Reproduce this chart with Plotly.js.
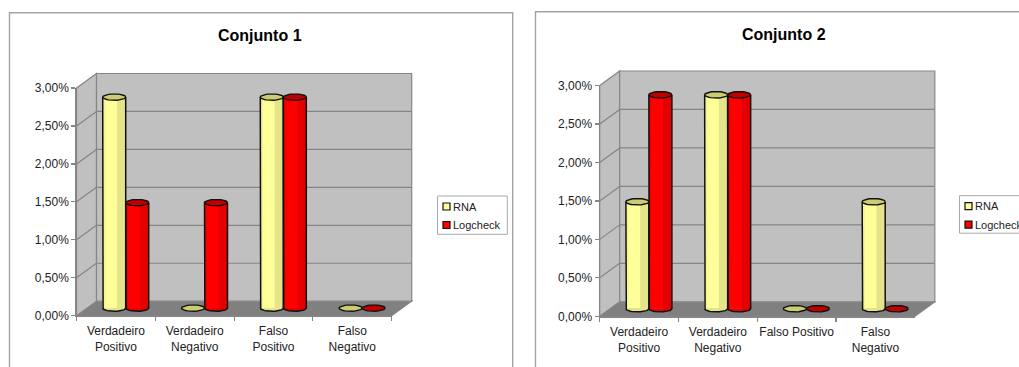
<!DOCTYPE html>
<html>
<head>
<meta charset="utf-8">
<script src="https://cdn.plot.ly/plotly-3.0.1.min.js"></script>
<style>html,body{margin:0;padding:0;background:#fff;overflow:hidden}#chart{width:1019px;height:367px}</style>
</head>
<body>
<div id="chart"></div>
<script>
// Classification rates per outcome, in percent
const categories1 = ['Verdadeiro<br>Positivo', 'Verdadeiro<br>Negativo', 'Falso<br>Positivo', 'Falso<br>Negativo'];
const categories2 = ['Verdadeiro<br>Positivo', 'Verdadeiro<br>Negativo', 'Falso Positivo', 'Falso<br>Negativo'];
const rna1 = [2.78, 0, 2.78, 0];
const logcheck1 = [1.39, 1.39, 2.78, 0];
const rna2 = [1.39, 2.78, 0, 1.39];
const logcheck2 = [2.78, 2.78, 0, 0];
const seriesNames = ['RNA', 'Logcheck'];
const yTicks = [0, 0.5, 1, 1.5, 2, 2.5, 3];
const yTickText = ['0,00%', '0,50%', '1,00%', '1,50%', '2,00%', '2,50%', '3,00%'];

const W = 1019, H = 367;
const X = p => p / W, Y = p => 1 - p / H;
const FONT = '"Liberation Sans", Arial, sans-serif';
const GREY = '#858585', WALL = '#c0c0c0', FLOOR = '#808080', INK = '#111';

const palette = [
  {body: '#ffff99', cap: '#cccc70', bands: [[0, 0.12, '#f4f490'], [0.62, 1, '#e4e48a']]},
  {body: '#ff0000', cap: '#bf0000', bands: [[0, 0.1, '#ee0000'], [0.62, 1, '#e40000']]}
];

const traces = [], shapes = [], annotations = [];
const layout = {
  width: W, height: H, margin: {l: 0, r: 0, t: 0, b: 0},
  paper_bgcolor: '#fff', plot_bgcolor: 'rgba(0,0,0,0)',
  showlegend: false, barmode: 'overlay',
  font: {family: FONT, size: 12, color: INK},
  shapes, annotations
};

function line(x0, y0, x1, y1, color, width) {
  shapes.push({type: 'line', xref: 'paper', yref: 'paper', layer: 'below',
    x0: X(x0), y0: Y(y0), x1: X(x1), y1: Y(y1), line: {color, width}});
}
function poly(pts, fill) {
  const d = pts.map((p, i) => (i ? 'L' : 'M') + X(p[0]) + ',' + Y(p[1])).join(' ') + ' Z';
  shapes.push({type: 'path', xref: 'paper', yref: 'paper', layer: 'below', path: d,
    fillcolor: fill, line: {color: GREY, width: 1.2}});
}

function panel(cfg, index) {
  const {left, right, top, bottom, frame, categories, values, title, legend} = cfg;
  const suffix = n => (n === 1 ? '' : String(n));
  const frontN = index * 2 + 1, barN = index * 2 + 2;
  const dx = 20, dy = -14.5;          // depth of the box
  const midX = 9.8, midY = -7.6;      // cylinders stand half way back
  const unitY = (bottom - top) / 3;
  const unitX = (right - left) / 4;
  const py = v => bottom - v * unitY;

  // Chart frame, open at the lower edge
  shapes.push({type: 'path', xref: 'paper', yref: 'paper', layer: 'below',
    path: 'M' + X(frame[0]) + ',' + Y(H + 5) + ' L' + X(frame[0]) + ',' + Y(frame[1]) +
      ' L' + X(frame[2]) + ',' + Y(frame[1]) + ' L' + X(frame[2]) + ',' + Y(H + 5),
    line: {color: '#a3a3a3', width: 1.4}});

  // Box: floor, side wall and back wall
  poly([[left, bottom], [left + dx, bottom + dy], [right + dx, bottom + dy], [right, bottom]], FLOOR);
  poly([[left, top], [left + dx, top + dy], [left + dx, bottom + dy], [left, bottom]], WALL);
  poly([[left + dx, top + dy], [right + dx, top + dy], [right + dx, bottom + dy], [left + dx, bottom + dy]], WALL);
  yTicks.forEach(v => {
    if (v === 0 || v === 3) return;
    line(left, py(v), left + dx, py(v) + dy, GREY, 1.2);
    line(left + dx, py(v) + dy, right + dx, py(v) + dy, GREY, 1.2);
  });

  // Front axes carry the ticks and labels
  const fx = 'x' + suffix(frontN), fy = 'y' + suffix(frontN);
  layout['xaxis' + suffix(frontN)] = {
    domain: [X(left), X(right)], anchor: fy, type: 'category', tickson: 'boundaries',
    range: [-0.5, 3.5], ticks: 'outside', ticklen: 4, tickcolor: GREY, tickwidth: 1.2,
    showline: true, linecolor: GREY, linewidth: 1.2, showgrid: false, fixedrange: true,
    tickfont: {family: FONT, size: 12, color: '#222'}, tickangle: 0, ticklabelstandoff: 4
  };
  layout['yaxis' + suffix(frontN)] = {
    domain: [Y(bottom), Y(top)], anchor: fx, range: [0, 3], tickvals: yTicks, ticktext: yTickText,
    ticks: 'outside', ticklen: 4, tickcolor: GREY, tickwidth: 1.2,
    showline: true, linecolor: GREY, linewidth: 1.2, showgrid: false, zeroline: false, fixedrange: true,
    tickfont: {family: FONT, size: 12, color: '#222'}
  };
  traces.push({type: 'scatter', mode: 'lines', x: categories, y: values[0], xaxis: fx, yaxis: fy,
    line: {width: 0, color: 'rgba(0,0,0,0)'}, hoverinfo: 'skip'});

  // Second pair of axes, same scale, shifted into the depth of the box
  const bx = 'x' + suffix(barN), by = 'y' + suffix(barN);
  const pad = 0.3;
  layout['xaxis' + suffix(barN)] = {
    domain: [X(left + midX), X(right + midX)], anchor: by, range: [-0.5, 3.5], visible: false, fixedrange: true
  };
  layout['yaxis' + suffix(barN)] = {
    domain: [Y(bottom + midY + pad * unitY), Y(top + midY)], anchor: bx, range: [-pad, 3], visible: false, fixedrange: true
  };

  const barW = 23 / unitX, rx = barW / 2, ry = 3.2 / unitY;
  values.forEach((vals, s) => {
    const col = palette[s];
    const centre = vals.map((_, i) => i + (s === 0 ? -rx : rx));
    const name = seriesNames[s];

    // Cylinder body plus its vertical shading bands
    traces.push({type: 'bar', name, x: centre, y: vals, width: barW, xaxis: bx, yaxis: by,
      marker: {color: col.body, line: {width: 0}}});
    col.bands.forEach(b => {
      traces.push({type: 'bar', name, x: centre.map(c => c - rx + (b[0] + b[1]) / 2 * barW), y: vals,
        width: (b[1] - b[0]) * barW, xaxis: bx, yaxis: by, hoverinfo: 'skip',
        marker: {color: b[2], line: {width: 0}}});
    });

    // Rounded foot and outline of each cylinder, flat disc for a zero value
    const outX = [], outY = [], footX = [], footY = [], capX = [], capY = [];
    vals.forEach((v, i) => {
      const c = centre[i];
      for (let a = 0; a <= 36; a++) {
        const t = a / 36 * 2 * Math.PI;
        capX.push(c + rx * Math.cos(t));
        capY.push(v + ry * Math.sin(t));
      }
      capX.push(null); capY.push(null);
      if (v > 0) {
        outX.push(c - rx); outY.push(v);
        for (let a = 0; a <= 24; a++) {
          const t = Math.PI + a / 24 * Math.PI;
          const ax = c + rx * Math.cos(t), ay = ry * Math.sin(t);
          outX.push(ax); outY.push(ay);
          footX.push(ax); footY.push(ay);
        }
        footX.push(null); footY.push(null);
        outX.push(c + rx, null); outY.push(v, null);
      }
    });
    traces.push({type: 'scatter', mode: 'lines', x: footX, y: footY, xaxis: bx, yaxis: by, fill: 'toself',
      fillcolor: col.bands[1][2], line: {width: 0, color: col.body}, hoverinfo: 'skip', connectgaps: false});
    traces.push({type: 'scatter', mode: 'lines', x: outX, y: outY, xaxis: bx, yaxis: by,
      line: {width: 1.5, color: INK}, hoverinfo: 'skip', connectgaps: false});
    traces.push({type: 'scatter', mode: 'lines', x: capX, y: capY, xaxis: bx, yaxis: by, fill: 'toself',
      fillcolor: col.cap, line: {width: 1.4, color: INK}, hoverinfo: 'skip', connectgaps: false});
  });

  // Title
  annotations.push({xref: 'paper', yref: 'paper', x: X(title.x), y: Y(title.y), text: '<b>' + title.text + '</b>',
    showarrow: false, xanchor: 'center', yanchor: 'middle', font: {family: FONT, size: 16, color: '#000'}});

  // Legend box with two entries
  const lg = legend;
  shapes.push({type: 'rect', xref: 'paper', yref: 'paper', layer: 'below',
    x0: X(lg.x0), x1: X(lg.x1), y0: Y(lg.y0), y1: Y(lg.y1), fillcolor: '#fff', line: {color: '#aaa', width: 1}});
  seriesNames.forEach((n, s) => {
    const cy = lg.y0 + 10.5 + s * 18.5;
    shapes.push({type: 'rect', xref: 'paper', yref: 'paper', layer: 'below',
      x0: X(lg.x0 + 5.5), x1: X(lg.x0 + 12.5), y0: Y(cy - 3.5), y1: Y(cy + 3.5),
      fillcolor: palette[s].body, line: {color: INK, width: 1.2}});
    annotations.push({xref: 'paper', yref: 'paper', x: X(lg.x0 + 15), y: Y(cy), text: n, showarrow: false,
      xanchor: 'left', yanchor: 'middle', xshift: -1, borderpad: 0, font: {family: FONT, size: 11, color: '#222'}});
  });
}

panel({left: 76.5, right: 391.7, top: 88, bottom: 315.7, frame: [9.5, 12.7, 512.7],
  categories: categories1, values: [rna1, logcheck1],
  title: {text: 'Conjunto 1', x: 260, y: 35.5},
  legend: {x0: 437.5, x1: 507.3, y0: 196, y1: 234.3}}, 0);

panel({left: 599.7, right: 914.8, top: 85.5, bottom: 316.3, frame: [535.5, 11.7, 1030],
  categories: categories2, values: [rna2, logcheck2],
  title: {text: 'Conjunto 2', x: 783.5, y: 34},
  legend: {x0: 959.5, x1: 1030, y0: 195.7, y1: 233.2}}, 1);

Plotly.newPlot('chart', traces, layout, {displayModeBar: false, staticPlot: true});
</script>
</body>
</html>
